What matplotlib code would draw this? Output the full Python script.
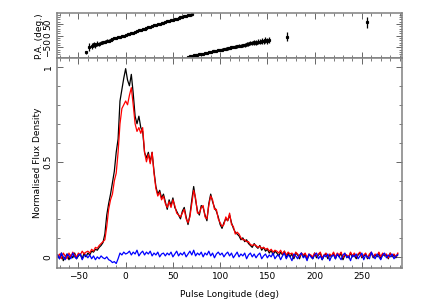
import numpy as np
import matplotlib
matplotlib.use("Agg")
import matplotlib.pyplot as plt
from matplotlib.ticker import MultipleLocator

# pulse longitude bins (deg)
lon = np.arange(-72, 290, 2)

# total intensity (black)
stokes_i = [
    0.01, -0.01, 0.02, -0.02, 0.00, 0.015, -0.015, 0.01, -0.005, 0.02, -0.01, 0.005, 0.015, -0.01, 0.02, 0.00,
    0.02, 0.01, 0.03, 0.025, 0.04, 0.035, 0.05, 0.06, 0.075,
    0.12, 0.22, 0.28, 0.33, 0.39, 0.45, 0.55, 0.62, 0.82, 0.88, 0.94, 0.99,
    0.93, 0.90, 0.96, 0.86, 0.74, 0.70, 0.74, 0.68, 0.66, 0.55,
    0.52, 0.55, 0.50, 0.55, 0.45, 0.37, 0.33, 0.35, 0.31, 0.33,
    0.29, 0.25, 0.30, 0.27, 0.31, 0.26, 0.24, 0.22, 0.20, 0.24,
    0.26, 0.21, 0.17, 0.22, 0.30, 0.37, 0.30, 0.24, 0.22, 0.27,
    0.26, 0.22, 0.19, 0.28, 0.33, 0.29, 0.26, 0.24, 0.21, 0.17,
    0.15, 0.18, 0.20, 0.19, 0.22, 0.18, 0.15, 0.13, 0.12, 0.11,
    0.09, 0.10, 0.08, 0.09, 0.07, 0.06, 0.05, 0.07, 0.055, 0.045,
    0.06, 0.035, 0.05, 0.03, 0.04, 0.02, 0.035, 0.01, 0.03, 0.02,
    0.005, 0.025, 0.01, 0.03, -0.005, 0.02, 0.00, 0.015, -0.01, 0.02,
    0.01, -0.01, 0.02, 0.00, 0.015, -0.015, 0.01, 0.005, -0.01, 0.02,
    -0.005, 0.01, 0.02, -0.015, 0.005, 0.015, -0.01, 0.01, 0.00, 0.02,
    -0.01, 0.015, 0.00, 0.02, -0.015, 0.01, 0.005, -0.005, 0.02, 0.00,
    0.015, -0.01, 0.01, 0.02, -0.005, 0.005, 0.015, -0.01, 0.01, 0.02,
    -0.005, 0.01, 0.00, 0.02, -0.01, 0.015, 0.005, 0.01, -0.01, 0.02,
    0.00, 0.01, -0.005, 0.015,
]

# linear polarisation (red)
linear = [
    0.00, 0.015, -0.01, 0.02, 0.005, -0.01, 0.02, 0.00, 0.025, 0.01, 0.00, 0.02, 0.01, 0.03, 0.015, 0.025,
    0.03, 0.02, 0.04, 0.03, 0.05, 0.045, 0.06, 0.07, 0.08,
    0.09, 0.16, 0.25, 0.30, 0.33, 0.40, 0.44, 0.55, 0.70, 0.78, 0.80, 0.82,
    0.80, 0.85, 0.89, 0.80, 0.70, 0.66, 0.68, 0.65, 0.68, 0.55,
    0.50, 0.54, 0.49, 0.55, 0.44, 0.36, 0.32, 0.34, 0.30, 0.32,
    0.28, 0.26, 0.29, 0.26, 0.30, 0.27, 0.23, 0.22, 0.21, 0.23,
    0.25, 0.20, 0.18, 0.21, 0.28, 0.35, 0.31, 0.23, 0.23, 0.26,
    0.27, 0.21, 0.20, 0.27, 0.32, 0.30, 0.25, 0.25, 0.20, 0.18,
    0.16, 0.17, 0.21, 0.19, 0.23, 0.17, 0.16, 0.12, 0.13, 0.12,
    0.10, 0.09, 0.09, 0.08, 0.08, 0.065, 0.06, 0.065, 0.06, 0.05,
    0.055, 0.045, 0.05, 0.04, 0.045, 0.03, 0.04, 0.025, 0.035, 0.03,
    0.02, 0.035, 0.015, 0.03, 0.01, 0.025, 0.015, 0.02, 0.00, 0.025,
    0.015, 0.00, 0.02, 0.01, 0.02, -0.005, 0.015, 0.01, 0.00, 0.02,
    0.005, 0.015, 0.025, -0.005, 0.01, 0.02, 0.00, 0.015, 0.005, 0.025,
    0.00, 0.02, 0.01, 0.025, -0.005, 0.015, 0.01, 0.00, 0.025, 0.005,
    0.02, 0.00, 0.015, 0.025, 0.00, 0.01, 0.02, -0.005, 0.015, 0.025,
    0.00, 0.015, 0.005, 0.025, 0.00, 0.02, 0.01, 0.015, -0.005, 0.02,
    0.005, 0.015, 0.00, 0.02,
]

# circular polarisation (blue)
circular = [
    0.01, -0.01, 0.02, 0.00, -0.015, 0.015, 0.005, -0.01, 0.02, 0.00, -0.01, 0.01, 0.015, -0.015, 0.005, 0.01,
    -0.005, 0.01, -0.01, 0.005, -0.015, 0.00, -0.01, 0.005, -0.005,
    -0.01, 0.00, -0.015, -0.02, -0.03, -0.025, -0.035, -0.01, 0.02, 0.01, 0.025, 0.015,
    0.02, 0.03, 0.01, 0.025, 0.015, 0.035, 0.005, 0.02, 0.03, 0.01,
    0.025, 0.015, 0.03, 0.005, 0.02, 0.01, 0.025, 0.0, 0.015, 0.02,
    0.005, 0.02, 0.01, 0.025, 0.00, 0.015, 0.03, 0.005, 0.02, 0.01,
    0.025, 0.00, 0.015, 0.03, 0.01, 0.035, 0.005, 0.02, 0.01, 0.025,
    0.00, 0.02, 0.01, 0.03, 0.005, 0.02, -0.005, 0.015, 0.025, 0.01,
    0.02, 0.00, 0.015, 0.025, 0.005, 0.02, -0.005, 0.01, 0.025, 0.00,
    0.015, 0.005, 0.02, -0.01, 0.01, 0.02, 0.00, 0.015, -0.005, 0.01,
    0.02, -0.01, 0.005, 0.015, -0.005, 0.01, 0.00, 0.02, -0.01, 0.005,
    0.01, -0.015, 0.005, 0.02, -0.01, 0.01, 0.00, -0.02, 0.015, 0.005,
    -0.01, 0.01, 0.02, -0.005, 0.005, -0.02, 0.015, 0.00, -0.01, 0.01,
    0.02, -0.01, 0.005, -0.015, 0.01, 0.00, 0.015, -0.02, 0.005, 0.01,
    -0.01, 0.015, 0.00, -0.015, 0.01, 0.02, -0.005, 0.005, -0.02, 0.01,
    0.00, 0.015, -0.01, 0.005, 0.02, -0.015, 0.01, 0.00, -0.01, 0.025,
    0.005, -0.01, 0.015, 0.00, -0.015, 0.01, 0.02, -0.005, 0.01, 0.00,
    0.015, -0.01, 0.005, 0.01,
]

# position angle, first swing
pa1_lon = np.arange(-36, 72, 2)
pa1 = [-45, -38, -42, -34, -37, -30, -28, -26, -22, -21, -17, -15, -12, -10, -7, -5, -2, 0,
       3, 5, 8, 10, 13, 16, 19, 22, 25, 27, 30, 33, 36, 38, 41, 44, 46, 49, 51, 54,
       56, 59, 61, 64, 66, 68, 71, 73, 76, 78, 81, 83, 86, 88, 90, 93]
pa1_err = [12, 10, 12, 9, 8, 8, 7, 6, 6, 5, 5, 5, 4, 4, 4, 4, 4, 4,
           4, 4, 4, 4, 4, 4, 4, 4, 4, 4, 4, 4, 4, 4, 4, 4, 4, 4, 4, 4,
           4, 4, 4, 4, 4, 4, 4, 4, 4, 4, 4, 4, 4, 4, 4, 4]

# position angle, wrapped part
pa2_lon = np.arange(66, 154, 2)
pa2 = [-91, -89, -87, -85, -83, -82, -80, -78, -77, -75,
       -73, -72, -70, -68, -66, -65, -63, -61, -60, -58,
       -56, -55, -53, -51, -49, -48, -46, -44, -43, -41,
       -40, -37, -36, -33, -33, -29, -30, -26, -27, -23,
       -25, -20, -22, -19]
pa2_err = [3, 3, 3, 3, 3, 3, 3, 3, 3, 3,
           4, 4, 4, 4, 4, 4, 4, 4, 5, 5,
           5, 5, 5, 5, 6, 6, 6, 6, 7, 7,
           7, 8, 8, 9, 9, 10, 10, 11, 11, 12,
           12, 12, 13, 13]

# isolated position angle points
pa3_lon = [-42, -39, 171, 255.6]
pa3 = [-72, -50, -4, 57]
pa3_err = [8, 18, 20, 24]

plt.rcParams['font.family'] = ['DejaVu Sans']
plt.rcParams['font.size'] = 6.5

fig = plt.figure(figsize=(4.36, 3.08), dpi=100)
ax_pa = fig.add_axes([0.130, 0.811, 0.791, 0.146])
ax = fig.add_axes([0.130, 0.129, 0.791, 0.682], sharex=ax_pa)

ax.plot(lon, stokes_i, color='black', lw=0.9)
ax.plot(lon, linear, color='red', lw=0.9)
ax.plot(lon, circular, color='blue', lw=0.9)

for xs, ys, es in [(pa1_lon, pa1, pa1_err), (pa2_lon, pa2, pa2_err), (pa3_lon, pa3, pa3_err)]:
    ax_pa.errorbar(xs, ys, yerr=es, fmt='s', ms=1.3, color='black', ecolor='black',
                   elinewidth=0.9, capsize=0)

ax.set_xlim(-73, 292)
ax.set_ylim(-0.06, 1.045)
ax_pa.set_ylim(-97, 96)

for a in (ax, ax_pa):
    for s in a.spines.values():
        s.set_color('0.5')
        s.set_linewidth(1.1)
    a.tick_params(which='both', direction='in', top=True, right=True, color='0.4')
    a.tick_params(which='major', length=4, width=0.7)
    a.tick_params(which='minor', length=2, width=0.6)
    a.xaxis.set_major_locator(MultipleLocator(50))
    a.xaxis.set_minor_locator(MultipleLocator(10))

ax_pa.tick_params(labelbottom=False)
ax_pa.yaxis.set_major_locator(MultipleLocator(50))
ax_pa.yaxis.set_minor_locator(MultipleLocator(10))
ax.yaxis.set_major_locator(MultipleLocator(0.5))
ax.yaxis.set_minor_locator(MultipleLocator(0.1))
ax.set_yticks([0, 0.5, 1])
ax.set_yticklabels(['0', '0.5', '1'])

for a in (ax, ax_pa):
    for lab in a.get_yticklabels():
        lab.set_rotation(90)
        lab.set_va('center')
    a.tick_params(axis='y', pad=3)
    a.tick_params(axis='x', pad=3)

ax.set_xlabel('Pulse Longitude (deg)', labelpad=6)
ax.set_ylabel('Normalised Flux Density', labelpad=1)
ax_pa.set_ylabel('P.A. (deg.)', labelpad=0)

fig.savefig('out.png', dpi=100)
